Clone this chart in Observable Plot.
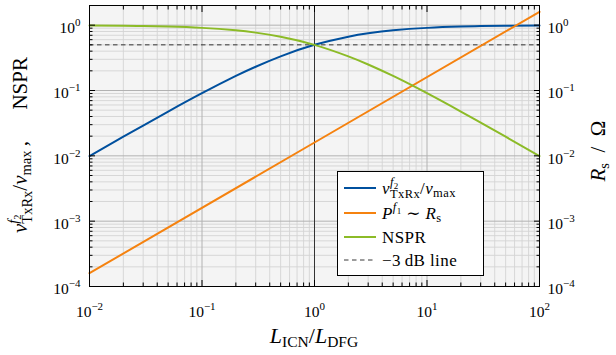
<!DOCTYPE html>
<html><head><meta charset="utf-8">
<script src="https://cdn.jsdelivr.net/npm/d3@7"></script>
<script src="https://cdn.jsdelivr.net/npm/@observablehq/plot@0.6"></script>
<style>body{margin:0;background:#fff} svg{display:block}</style>
</head><body><div id="chart"></div>
<script>
// ---- data ----
const ratio = [0.01, 0.02, 0.03, 0.05, 0.1, 0.2, 0.3, 0.5, 1, 2, 3, 5, 10, 20, 30, 50, 100];
const voltageNorm = [0.0099, 0.0196, 0.0291, 0.0476, 0.0909, 0.167, 0.231, 0.333, 0.5, 0.667, 0.75, 0.833, 0.909, 0.952, 0.968, 0.980, 0.990];
const nsprValues = [0.990, 0.980, 0.971, 0.952, 0.909, 0.833, 0.769, 0.667, 0.5, 0.333, 0.25, 0.167, 0.0909, 0.0476, 0.0323, 0.0196, 0.0099];
const powerRatio = [0.01, 1, 100];
const powerValues = [1.6e-4, 0.016, 1.6];
const dbLine = [0.5];
const refX = [1];
const xTickValues = [0.01, 0.1, 1, 10, 100];
const yTickValues = [1e-4, 1e-3, 1e-2, 1e-1, 1];
const seriesNames = ["v", "P", "NSPR", "-3dB"];
const colors = {v: "#00509e", P: "#f5820f", NSPR: "#8cbb27"};

// ---- build tables ----
const vData = ratio.map((x, i) => ({x, y: voltageNorm[i]}));
const nData = ratio.map((x, i) => ({x, y: nsprValues[i]}));
const pData = powerRatio.map((x, i) => ({x, y: powerValues[i]}));
const minorOf = (majors, top) => {
  const out = [];
  for (const m of majors) for (let k = 2; k <= 9; k++) { const v = m * k; if (v <= top * 1.0001) out.push(v); }
  return out;
};
const xMinor = minorOf(xTickValues.slice(0, -1), 100);
const yMinor = minorOf(yTickValues, 2);
const sup = d => "10^" + Math.round(Math.log10(d));

const FONT = "'Liberation Serif', 'DejaVu Serif', serif";

const plot = Plot.plot({
  width: 616, height: 355,
  marginLeft: 89, marginRight: 77, marginTop: 5, marginBottom: 69,
  x: {type: "log", domain: [0.01, 100]},
  y: {type: "log", domain: [1e-4, 2]},
  style: {fontFamily: FONT, fontSize: "15.5px", background: "transparent", color: "black"},
  marks: [
    Plot.frame({fill: "#f4f4f4", stroke: null}),
    Plot.gridX(xMinor, {stroke: "#d4d4d4", strokeOpacity: 1, strokeWidth: 0.9}),
    Plot.gridY(yMinor, {stroke: "#d4d4d4", strokeOpacity: 1, strokeWidth: 0.9}),
    Plot.gridX(xTickValues, {stroke: "#b2b2b2", strokeOpacity: 1, strokeWidth: 1}),
    Plot.gridY(yTickValues, {stroke: "#b2b2b2", strokeOpacity: 1, strokeWidth: 1}),
    Plot.ruleX(refX, {stroke: "#333", strokeWidth: 1}),
    Plot.ruleY(dbLine, {stroke: "#222", strokeWidth: 0.9, strokeDasharray: "4.5,3.5"}),
    Plot.line(vData, {x: "x", y: "y", stroke: colors.v, strokeWidth: 2, curve: "natural"}),
    Plot.line(pData, {x: "x", y: "y", stroke: colors.P, strokeWidth: 2}),
    Plot.line(nData, {x: "x", y: "y", stroke: colors.NSPR, strokeWidth: 2, curve: "natural"}),
    Plot.frame({stroke: "black", strokeWidth: 1}),
    // inner minor ticks
    Plot.axisX(xMinor, {anchor: "bottom", tickSize: -3.5, fill: "none", label: null}),
    Plot.axisX(xMinor, {anchor: "top", tickSize: -3.5, fill: "none", label: null}),
    Plot.axisY(yMinor, {anchor: "left", tickSize: -3.5, fill: "none", label: null}),
    Plot.axisY(yMinor, {anchor: "right", tickSize: -3.5, fill: "none", label: null}),
    // inner major ticks
    Plot.axisX(xTickValues, {anchor: "bottom", tickSize: -6, fill: "none", label: null}),
    Plot.axisX(xTickValues, {anchor: "top", tickSize: -6, fill: "none", label: null}),
    Plot.axisY(yTickValues, {anchor: "left", tickSize: -6, fill: "none", label: null}),
    Plot.axisY(yTickValues, {anchor: "right", tickSize: -6, fill: "none", label: null}),
    // labels
    Plot.axisX(xTickValues, {anchor: "bottom", tickSize: 0, tickPadding: 19, tickFormat: sup, label: null}),
    Plot.axisY(yTickValues, {anchor: "left", tickSize: 0, tickPadding: 9, dy: 3, tickFormat: sup, label: null}),
    Plot.axisY(yTickValues, {anchor: "right", tickSize: 0, tickPadding: 8, dy: 3, tickFormat: sup, label: null})
  ]
});
document.getElementById("chart").appendChild(plot);

const svg = d3.select(plot);

// superscript tick labels
svg.selectAll("text").each(function () {
  const t = d3.select(this);
  const s = this.textContent;
  const m = /^10\^(-?\d+)$/.exec(s);
  if (!m) return;
  t.text(null);
  t.append("tspan").text("10");
  t.append("tspan").attr("dy", -7).attr("font-size", 11).text(m[1].replace("-", "\u2212"));
});

// rich text helper: segments {t, off, size, it, g}
function rich(sel, segs) {
  let cur = 0;
  const nodes = [];
  for (const s of segs) {
    const off = s.off || 0;
    const ts = sel.append("tspan").attr("dy", off - cur).text(s.t);
    if (s.size) ts.attr("font-size", s.size);
    if (s.it) ts.attr("font-style", "italic");
    nodes.push({node: ts.node(), g: s.g || null, dx: s.dx || 0});
    cur = off;
  }
  for (let i = 0; i < nodes.length; i++) {
    if (nodes[i].g === "sup") {
      let j = i, supW = 0;
      while (j < nodes.length && nodes[j].g === "sup") { supW += nodes[j].node.getComputedTextLength(); j++; }
      let k = j, subW = 0;
      while (k < nodes.length && nodes[k].g === "sub") { subW += nodes[k].node.getComputedTextLength(); k++; }
      if (k > j) {
        nodes[j].dx += -supW;
        if (k < nodes.length) nodes[k].dx += Math.max(0, supW - subW);
      }
      i = k - 1;
    }
  }
  for (const n of nodes) if (n.dx) d3.select(n.node).attr("dx", n.dx);
}

// axis titles
const bottom = svg.append("text").attr("x", 314).attr("y", 343).attr("text-anchor", "middle")
  .attr("font-family", FONT).attr("font-size", 22).attr("fill", "black");
rich(bottom, [
  {t: "L", it: true}, {t: "ICN", size: 15.5, off: 4}, {t: "/", off: 0},
  {t: "L", it: true}, {t: "DFG", size: 15.5, off: 4}
]);

const left = svg.append("text").attr("transform", "translate(27,57) rotate(-90)")
  .attr("text-anchor", "end")
  .attr("font-family", FONT).attr("font-size", 21).attr("fill", "black");
rich(left, [
  {t: "v", it: true},
  {t: "f", it: true, size: 14.5, off: -9, g: "sup"}, {t: "2", size: 10.5, off: -6, g: "sup"},
  {t: "TxRx", size: 14.5, off: 5, g: "sub"},
  {t: "/", off: 0}, {t: "v", it: true}, {t: "max", size: 14.5, off: 4},
  {t: "\u2009,\u2003\u2002NSPR", off: 0}
]);

const right = svg.append("text").attr("transform", "translate(605,151) rotate(-90)")
  .attr("text-anchor", "middle")
  .attr("font-family", FONT).attr("font-size", 21).attr("fill", "black");
rich(right, [
  {t: "R", it: true}, {t: "s", size: 14.5, off: 4}, {t: "\u2002/\u2002\u03A9", off: 0}
]);

// legend
const lg = svg.append("g").attr("font-family", FONT).attr("font-size", 17).attr("text-anchor", "start")
  .attr("letter-spacing", 0.4);
lg.append("rect").attr("x", 337.5).attr("y", 171.5).attr("width", 146).attr("height", 104)
  .attr("fill", "white").attr("stroke", "black").attr("stroke-width", 1);
const ly = [188, 213, 237, 260];
const legendStyles = [
  {stroke: colors.v, w: 2, dash: null},
  {stroke: colors.P, w: 2, dash: null},
  {stroke: colors.NSPR, w: 2, dash: null},
  {stroke: "#222", w: 0.9, dash: "4.5,3.5"}
];
const legendText = [
  [{t: "v", it: true}, {t: "f", it: true, size: 12.5, off: -7.5, g: "sup"}, {t: "2", size: 9, off: -5, g: "sup"},
   {t: "TxRx", size: 12.5, off: 4, g: "sub"}, {t: "/", off: 0}, {t: "v", it: true}, {t: "max", size: 12.5, off: 3.5}],
  [{t: "P", it: true}, {t: "f", it: true, size: 12.5, off: -7.5}, {t: "1", size: 9, off: -5},
   {t: " \u223C ", off: 0}, {t: "R", it: true}, {t: "s", size: 12.5, off: 3.5}],
  [{t: "NSPR"}],
  [{t: "\u22123\u2009dB line"}]
];
seriesNames.forEach((name, i) => {
  const st = legendStyles[i];
  lg.append("line").attr("x1", 344).attr("x2", 376).attr("y1", ly[i]).attr("y2", ly[i])
    .attr("stroke", st.stroke).attr("stroke-width", st.w).attr("stroke-dasharray", st.dash);
  const tx = lg.append("text").attr("x", 382).attr("y", ly[i] + 5.5).attr("fill", "black").attr("text-anchor", "start");
  rich(tx, legendText[i]);
});
</script>
</body></html>
